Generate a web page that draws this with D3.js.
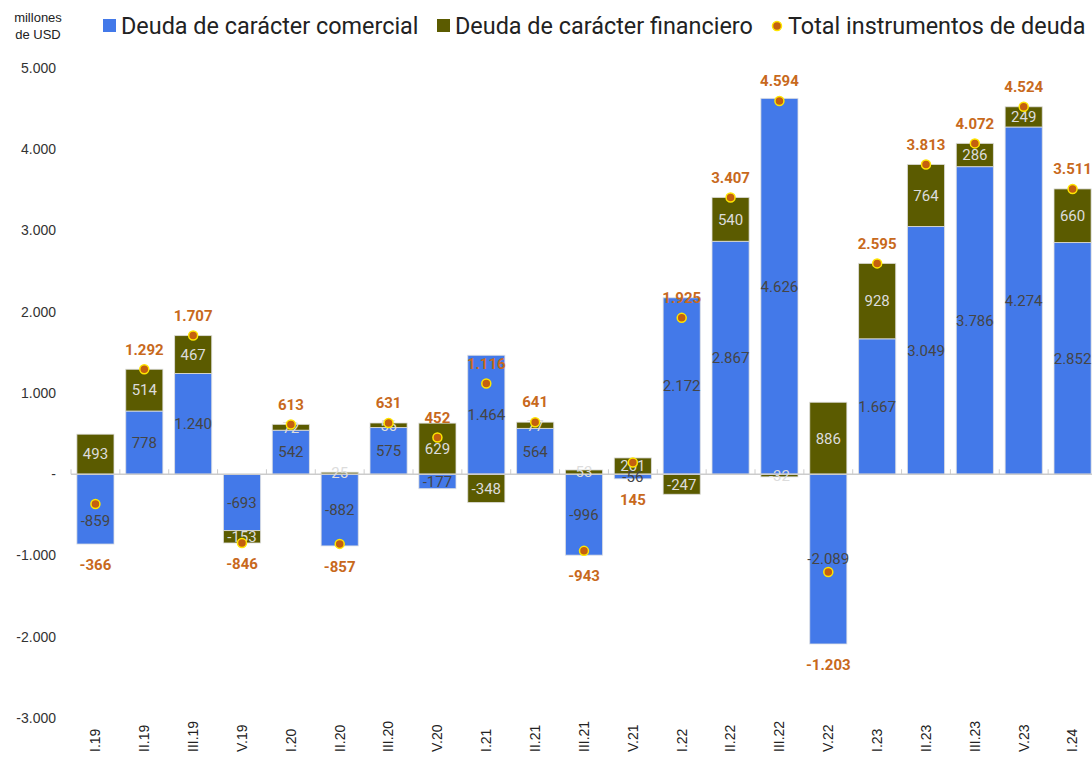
<!DOCTYPE html>
<html>
<head>
<meta charset="utf-8">
<script src="https://cdn.jsdelivr.net/npm/d3@7"></script>
<style>
  body { margin: 0; background: #fff; }
  svg { display: block; }
</style>
</head>
<body>
<svg id="chart" width="1092" height="761"></svg>
<script>
const categories = ["I.19", "II.19", "III.19", "V.19", "I.20", "II.20", "III.20", "V.20",
  "I.21", "II.21", "III.21", "V.21", "I.22", "II.22", "III.22", "V.22",
  "I.23", "II.23", "III.23", "V.23", "I.24"];
const comercial = [-859, 778, 1240, -693, 542, -882, 575, -177, 1464, 564, -996, -56,
  2172, 2867, 4626, -2089, 1667, 3049, 3786, 4274, 2852];
const financiero = [493, 514, 467, -153, 72, 25, 56, 629, -348, 77, 53, 201,
  -247, 540, -32, 886, 928, 764, 286, 249, 660];
const total = [-366, 1292, 1707, -846, 613, -857, 631, 452, 1116, 641, -943, 145,
  1925, 3407, 4594, -1203, 2595, 3813, 4072, 4524, 3511];
const yTicks = [-3000, -2000, -1000, 0, 1000, 2000, 3000, 4000, 5000];
const seriesNames = ["Deuda de carácter comercial", "Deuda de carácter financiero", "Total instrumentos de deuda"];

const colors = { comercial: "#4379E9", financiero: "#5B5B00", dot: "#C4600F", dotStroke: "#FFE600", total: "#C8691C" };
const width = 1092, height = 761;
const margin = { top: 68, right: -5, bottom: 43, left: 71 };

const svg = d3.select("#chart");
const loc = d3.formatLocale({ decimal: ",", thousands: ".", grouping: [3], currency: ["", ""], minus: "-" });
const fmt = loc.format(",");
const tickFmt = v => v === 0 ? "-" : fmt(v);

const x = d3.scaleBand()
  .domain(categories)
  .range([margin.left, width - margin.right])
  .paddingInner(0.24)
  .paddingOuter(0.12);
const y = d3.scaleLinear()
  .domain([-3000, 5000])
  .range([height - margin.bottom, margin.top]);
const cx = c => x(c) + x.bandwidth() / 2;

// stack positives up and negatives down, like the original
const stacked = categories.map((c, i) => {
  let pos = 0, neg = 0;
  return [["comercial", comercial[i]], ["financiero", financiero[i]]].map(([key, v]) => {
    let y0, y1;
    if (v >= 0) { y0 = pos; y1 = pos + v; pos = y1; }
    else { y0 = neg; y1 = neg + v; neg = y1; }
    return { key, cat: c, idx: i, value: v, y0, y1 };
  });
});

// y axis labels
svg.append("g")
  .selectAll("text")
  .data(yTicks)
  .join("text")
  .attr("x", 56)
  .attr("y", d => y(d))
  .attr("dy", "0.35em")
  .attr("text-anchor", "end")
  .attr("font-family", "Liberation Sans, Arial, sans-serif")
  .attr("font-size", 14)
  .attr("fill", "#333")
  .text(tickFmt);

svg.append("text")
  .attr("font-family", "Liberation Sans, Arial, sans-serif")
  .attr("font-size", 13)
  .attr("fill", "#222")
  .attr("text-anchor", "middle")
  .selectAll("tspan")
  .data(["millones", "de USD"])
  .join("tspan")
  .attr("x", 38)
  .attr("y", (d, i) => 22 + i * 17)
  .text(d => d);

// x labels
svg.append("g")
  .selectAll("text")
  .data(categories)
  .join("text")
  .attr("transform", d => `translate(${cx(d)},752) rotate(-90)`)
  .attr("dy", "0.35em")
  .attr("font-family", "Liberation Sans, Arial, sans-serif")
  .attr("font-size", 14)
  .attr("fill", "#222")
  .text(d => d);

// bars
svg.append("g")
  .selectAll("g")
  .data(stacked)
  .join("g")
  .selectAll("rect")
  .data(d => d)
  .join("rect")
  .attr("x", d => x(d.cat))
  .attr("width", x.bandwidth())
  .attr("y", d => y(Math.max(d.y0, d.y1)))
  .attr("height", d => Math.abs(y(d.y0) - y(d.y1)))
  .attr("fill", d => colors[d.key])
  .attr("stroke", "rgba(225,225,225,0.8)")
  .attr("stroke-width", 1);

// zero baseline with ticks at band boundaries
const y0 = y(0);
svg.append("line")
  .attr("x1", margin.left).attr("x2", width)
  .attr("y1", y0).attr("y2", y0)
  .attr("stroke", "#ccc").attr("stroke-width", 1.5);
const step = x.step();
svg.append("g")
  .selectAll("line")
  .data(d3.range(categories.length + 1))
  .join("line")
  .attr("x1", i => margin.left + i * step)
  .attr("x2", i => margin.left + i * step)
  .attr("y1", y0 - 5).attr("y2", y0)
  .attr("stroke", "#ccc").attr("stroke-width", 1);

// segment labels (nudged off the total dot when a tall segment's label sits on it)
const segLabelY = d => {
  const mid = y((d.y0 + d.y1) / 2);
  const dotY = y(total[d.idx]);
  const h = Math.abs(y(d.y0) - y(d.y1));
  if (h > 30 && Math.abs(mid - dotY) < 8) return dotY + (d.value < 0 ? 17 : -17);
  return mid;
};
svg.append("g")
  .selectAll("text")
  .data(stacked.flat())
  .join("text")
  .attr("x", d => cx(d.cat))
  .attr("y", segLabelY)
  .attr("dy", "0.35em")
  .attr("text-anchor", "middle")
  .attr("font-family", "Roboto, sans-serif")
  .attr("font-size", 15)
  .attr("fill", d => d.key === "comercial" ? "#454545" : "#dcdcdc")
  .text(d => fmt(d.value));

// totals: dots + labels
const tot = categories.map((c, i) => ({
  cat: c, value: total[i],
  negBottom: Math.min(0, ...stacked[i].map(s => Math.min(s.y0, s.y1)))
}));
svg.append("g")
  .selectAll("circle")
  .data(tot)
  .join("circle")
  .attr("cx", d => cx(d.cat))
  .attr("cy", d => y(d.value))
  .attr("r", 4.5)
  .attr("fill", colors.dot)
  .attr("stroke", colors.dotStroke)
  .attr("stroke-width", 1.5);

// small totals sit on the stacked labels, so they go below the bar
const below = d => d.value < 0 || Math.abs(d.value) < 300;
svg.append("g")
  .selectAll("text")
  .data(tot)
  .join("text")
  .attr("x", d => cx(d.cat))
  .attr("y", d => below(d) ? Math.max(y(d.negBottom), y(d.value)) + 21 : y(d.value) - 20)
  .attr("dy", "0.35em")
  .attr("text-anchor", "middle")
  .attr("font-family", "Roboto, sans-serif")
  .attr("font-weight", "bold")
  .attr("font-size", 15)
  .attr("fill", colors.total)
  .text(d => fmt(d.value));

// legend
const legend = svg.append("g").attr("font-family", "Roboto, sans-serif").attr("font-size", 23.4).attr("fill", "#222");
const legendX = [103, 437, 772];
seriesNames.forEach((name, i) => {
  const g = legend.append("g").attr("transform", `translate(${legendX[i]},26)`);
  if (i < 2) {
    g.append("rect").attr("x", 0).attr("y", -7).attr("width", 13).attr("height", 13)
      .attr("fill", i === 0 ? colors.comercial : colors.financiero);
  } else {
    g.append("circle").attr("cx", 5).attr("cy", 0).attr("r", 4.5)
      .attr("fill", colors.dot).attr("stroke", colors.dotStroke).attr("stroke-width", 1.5);
  }
  g.append("text").attr("x", i < 2 ? 18 : 16).attr("dy", "0.35em").text(name);
});
</script>
</body>
</html>
